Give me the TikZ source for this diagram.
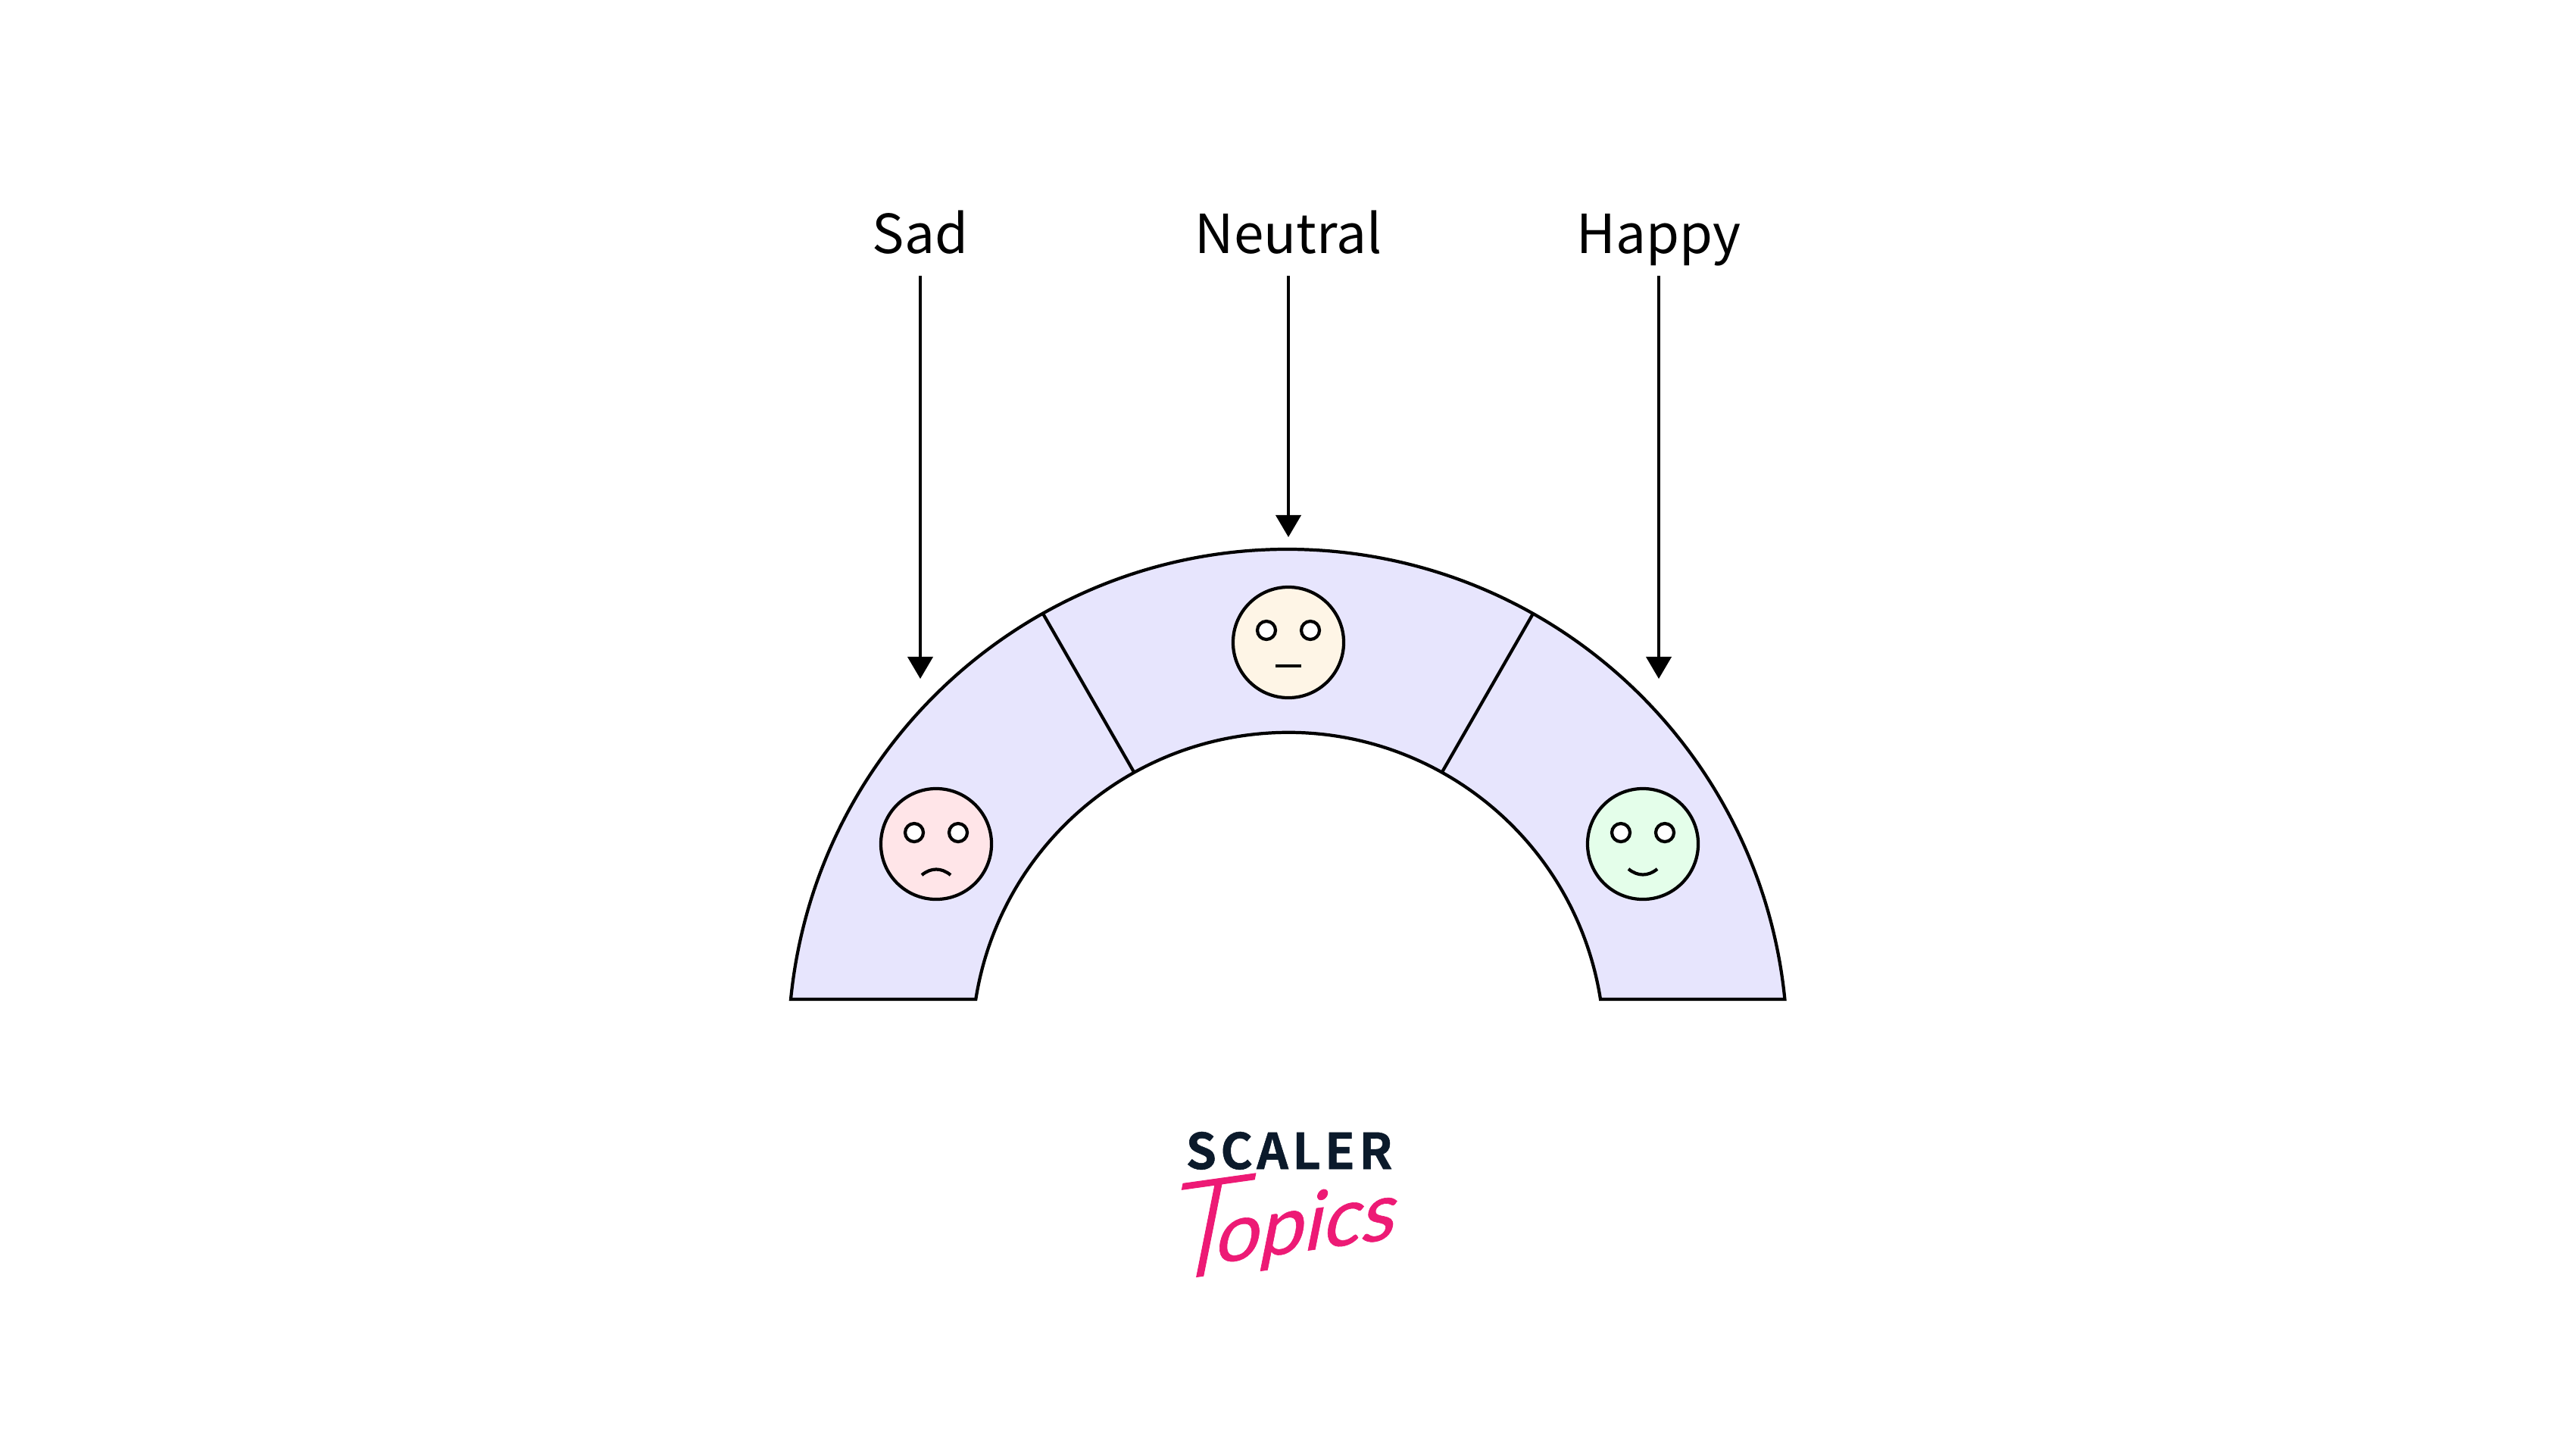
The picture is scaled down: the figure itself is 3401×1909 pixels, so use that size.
\documentclass[tikz,border=0pt]{standalone}
\usepackage{fontspec}
\usepackage{xcolor}
\usetikzlibrary{arrows.meta}
\setmainfont{Noto Sans CJK JP}
\newfontfamily\logofont[LetterSpace=8.0,FakeBold=0.8]{Noto Sans CJK JP}[BoldFont={* Bold}]
\newfontfamily\topicsfont[FakeSlant=0.35,FakeBold=0.6]{Lato}
\newfontfamily\topicsbigfont[FakeSlant=0.35,FakeBold=0.6]{Lato Light}
\definecolor{bandBlue}{HTML}{E7E5FD}
\definecolor{sadPink}{HTML}{FFE5E8}
\definecolor{neutralCream}{HTML}{FEF5E6}
\definecolor{happyGreen}{HTML}{E4FEEA}
\definecolor{logoNavy}{HTML}{0B1A2B}
\definecolor{logoPink}{HTML}{ED1A75}
\tikzset{
    outline/.style={draw=black,line width=1.2pt},
    moodLabel/.style={anchor=south,inner sep=0,outer sep=0,text height=15.5pt,text depth=8.25pt,font=\fontsize{20.2}{24}\selectfont},
    pointer/.style={draw=black,line width=1.1pt,-{Triangle[width=3.3mm,length=2.9mm]},shorten >=0pt},
    face/.style={shape=circle,outline,minimum size=14.6mm,inner sep=0,outer sep=0},
    eye/.style={shape=circle,outline,fill=white,minimum size=2.4mm,inner sep=0,outer sep=0},
    mouth/.style={outline,line cap=butt}
}
\begin{document}
\begin{tikzpicture}[x=0.01cm,y=-0.01cm]
    \useasboundingbox (0,0) rectangle (3401,1909);

    \draw[outline,fill=bandBlue] (1044,1319) arc[start angle=185.7,end angle=354.3,radius=659.5]
        -- (2113,1319) arc[start angle=351,end angle=189,radius=417.5] -- cycle;

    \coordinate (spokeLeftOut) at (1377,810);
    \coordinate (spokeLeftIn) at (1497,1019);
    \coordinate (spokeRightOut) at (2024,810);
    \coordinate (spokeRightIn) at (1904,1019);
    \path [outline] (spokeLeftOut) edge node {} (spokeLeftIn);
    \path [outline] (spokeRightOut) edge node {} (spokeRightIn);

    \node[moodLabel] (sadLabel) at (1215,364) {Sad};
    \node[moodLabel] (neutralLabel) at (1701,364) {Neutral};
    \node[moodLabel] (happyLabel) at (2190,364) {Happy};
    \coordinate (sadTip) at (1215,896);
    \coordinate (neutralTip) at (1701,709);
    \coordinate (happyTip) at (2190,896);
    \path [pointer] (sadLabel) edge node {} (sadTip);
    \path [pointer] (neutralLabel) edge node {} (neutralTip);
    \path [pointer] (happyLabel) edge node {} (happyTip);

    \node[face,fill=sadPink] (sadFace) at (1236,1114) {};
    \node[eye] (sadEyeL) at (1207,1099) {};
    \node[eye] (sadEyeR) at (1265,1099) {};
    \draw[mouth] (1217,1155) .. controls (1229,1145) and (1243,1145) .. (1255,1155);

    \node[face,fill=neutralCream] (neutralFace) at (1701,848) {};
    \node[eye] (neutralEyeL) at (1672,832) {};
    \node[eye] (neutralEyeR) at (1730,832) {};
    \draw[mouth] (1684,879) -- (1718,879);

    \node[face,fill=happyGreen] (happyFace) at (2169,1114) {};
    \node[eye] (happyEyeL) at (2140,1099) {};
    \node[eye] (happyEyeR) at (2198,1099) {};
    \draw[mouth] (2150,1147) .. controls (2162,1157) and (2176,1157) .. (2188,1147);

    \node[anchor=base,inner sep=0,text=logoNavy,font=\logofont\bfseries\fontsize{18.5}{20}\selectfont] (logoScaler) at (1702,1543) {SCALER};
    \node[anchor=base west,inner sep=0,text=logoPink,rotate=8,font=\topicsfont\fontsize{30}{30}\selectfont] (logoTopics) at (1533,1692) {{\topicsbigfont\fontsize{50}{60}\selectfont T}\kern-9pt\raisebox{4pt}{opics}};
\end{tikzpicture}
\end{document}
